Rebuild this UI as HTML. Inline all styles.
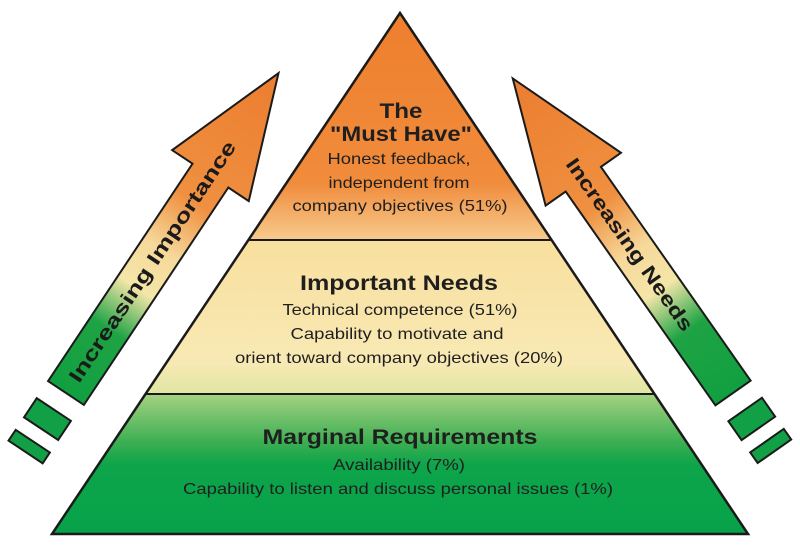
<!DOCTYPE html>
<html><head><meta charset="utf-8"><style>html,body{margin:0;padding:0;background:#fff}svg{display:block}</style></head>
<body>
<svg width="800" height="545" viewBox="0 0 800 545" xmlns="http://www.w3.org/2000/svg" font-family="'Liberation Sans', Arial, sans-serif">
<defs>
<linearGradient id="gTop" x1="0" y1="13" x2="0" y2="240" gradientUnits="userSpaceOnUse">
<stop offset="0" stop-color="#ee7f2e"/><stop offset="0.75" stop-color="#f08c3c"/><stop offset="1" stop-color="#f7cb8e"/>
</linearGradient>
<linearGradient id="gMid" x1="0" y1="240" x2="0" y2="394" gradientUnits="userSpaceOnUse">
<stop offset="0" stop-color="#f8df9e"/><stop offset="0.8" stop-color="#f8e9b4"/><stop offset="1" stop-color="#dfe6a4"/>
</linearGradient>
<linearGradient id="gBot" x1="0" y1="394" x2="0" y2="534" gradientUnits="userSpaceOnUse">
<stop offset="0" stop-color="#a5d282"/><stop offset="0.35" stop-color="#3bae52"/><stop offset="0.5" stop-color="#0ea54a"/><stop offset="1" stop-color="#06a24a"/>
</linearGradient>
<linearGradient id="gArr" x1="0" y1="0" x2="384" y2="0" gradientUnits="userSpaceOnUse">
<stop offset="0" stop-color="#10a040"/><stop offset="0.2" stop-color="#1fa344"/><stop offset="0.33" stop-color="#f4e6a8"/><stop offset="0.45" stop-color="#f6d89a"/><stop offset="0.6" stop-color="#ef9040"/><stop offset="1" stop-color="#ec7d30"/>
</linearGradient>
</defs>

<!-- Pyramid -->
<polygon points="400,13 248,240 552,240" fill="url(#gTop)"/>
<polygon points="248,240 552,240 654,394 146,394" fill="url(#gMid)"/>
<polygon points="146,394 654,394 748,534 52,534" fill="url(#gBot)"/>
<polygon points="400,13 52,534 748,534" fill="none" stroke="#1a1a1a" stroke-width="2.5" stroke-linejoin="miter"/>
<line x1="248" y1="240" x2="552" y2="240" stroke="#1a1a1a" stroke-width="2"/>
<line x1="146" y1="394" x2="654" y2="394" stroke="#1a1a1a" stroke-width="2"/>

<!-- Left arrow -->
<g transform="translate(66,393) rotate(-56.4)">
<polygon points="0,-21.5 261,-21.5 261,-46 384,0 261,46 261,21.5 0,21.5" fill="url(#gArr)" stroke="#1a1a1a" stroke-width="2" stroke-linejoin="miter"/>
<rect x="-43.5" y="-21.5" width="23" height="41" fill="#12a046" stroke="#1a1a1a" stroke-width="2"/>
<rect x="-71.5" y="-21.5" width="13" height="41" fill="#12a046" stroke="#1a1a1a" stroke-width="2"/>
</g>
<text transform="translate(153,262) rotate(-56.4)" text-anchor="middle" dominant-baseline="central" font-weight="bold" font-size="20" fill="#1a1a1a" textLength="285" lengthAdjust="spacingAndGlyphs">Increasing Importance</text>

<!-- Right arrow -->
<g transform="translate(733,393) rotate(-125)">
<polygon points="0,-21.5 261,-21.5 261,-46 384,0 261,46 261,21.5 0,21.5" fill="url(#gArr)" stroke="#1a1a1a" stroke-width="2" stroke-linejoin="miter"/>
<rect x="-43.5" y="-20" width="23" height="41" fill="#12a046" stroke="#1a1a1a" stroke-width="2"/>
<rect x="-71.5" y="-20" width="13" height="41" fill="#12a046" stroke="#1a1a1a" stroke-width="2"/>
</g>
<text transform="translate(629,245) rotate(55)" text-anchor="middle" dominant-baseline="central" font-weight="bold" font-size="20" fill="#1a1a1a" textLength="206" lengthAdjust="spacingAndGlyphs">Increasing Needs</text>

<!-- Pyramid text -->
<g text-anchor="middle" fill="#1f1f1f">
<text x="401" y="118" font-weight="bold" font-size="21" textLength="43" lengthAdjust="spacingAndGlyphs">The</text>
<text x="401" y="141" font-weight="bold" font-size="21" textLength="142" lengthAdjust="spacingAndGlyphs">"Must Have"</text>
<text x="399" y="164" font-size="16" textLength="143" lengthAdjust="spacingAndGlyphs">Honest feedback,</text>
<text x="399" y="188" font-size="16" textLength="141" lengthAdjust="spacingAndGlyphs">independent from</text>
<text x="400" y="211" font-size="16" textLength="215" lengthAdjust="spacingAndGlyphs">company objectives (51%)</text>

<text x="399" y="290" font-weight="bold" font-size="21" textLength="198" lengthAdjust="spacingAndGlyphs">Important Needs</text>
<text x="400" y="315" font-size="16" textLength="235" lengthAdjust="spacingAndGlyphs">Technical competence (51%)</text>
<text x="397" y="339" font-size="16" textLength="213" lengthAdjust="spacingAndGlyphs">Capability to motivate and</text>
<text x="399" y="363" font-size="16" textLength="328" lengthAdjust="spacingAndGlyphs">orient toward company objectives (20%)</text>

<text x="400" y="444" font-weight="bold" font-size="21" textLength="275" lengthAdjust="spacingAndGlyphs">Marginal Requirements</text>
<text x="399" y="470" font-size="16" textLength="132" lengthAdjust="spacingAndGlyphs">Availability (7%)</text>
<text x="398" y="494" font-size="16" textLength="430" lengthAdjust="spacingAndGlyphs">Capability to listen and discuss personal issues (1%)</text>
</g>
</svg>
</body></html>
